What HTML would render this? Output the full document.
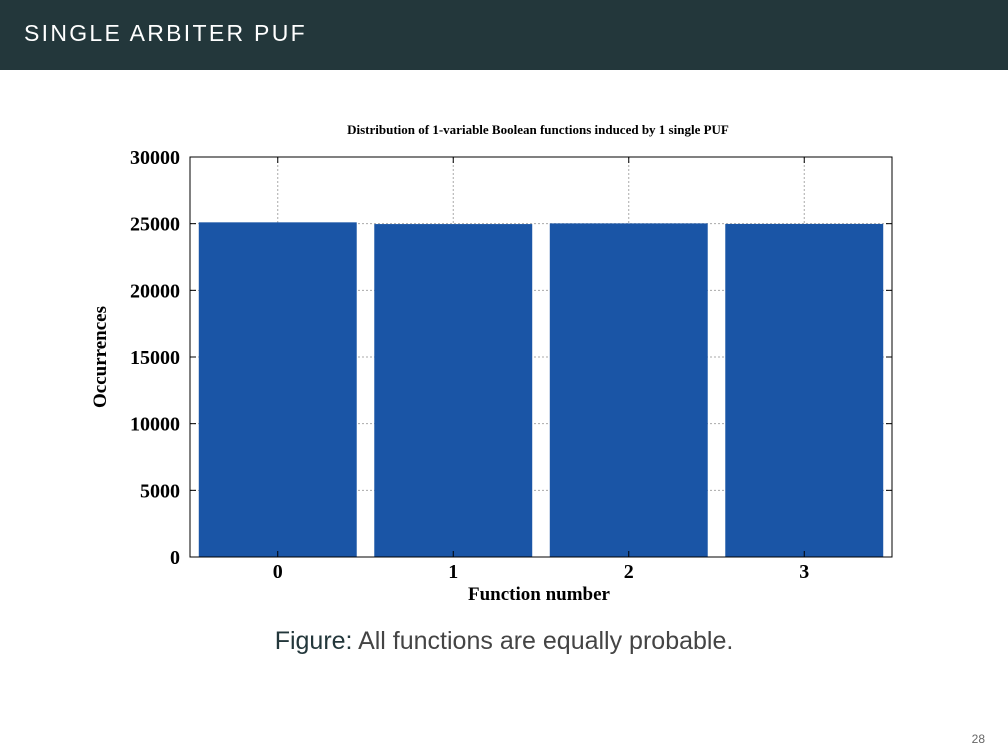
<!DOCTYPE html>
<html><head><meta charset="utf-8"><style>
body{margin:0;width:1008px;height:756px;background:#fff;position:relative;overflow:hidden;font-family:"Liberation Sans",sans-serif}
#hdr{position:absolute;left:0;top:0;width:1008px;height:70px;background:#23373b}
#ttl{position:absolute;left:24px;top:20px;color:#fff;font-size:23px;letter-spacing:2.3px}
#cap{position:absolute;left:0;width:1008px;top:627px;text-align:center;font-size:25px;color:#23373b}
#pg{position:absolute;right:23px;top:732px;font-size:12px;color:#666}
svg{position:absolute;left:0;top:0}
</style></head><body>
<div id="hdr"><div id="ttl">SINGLE ARBITER PUF</div></div>
<svg id="ch" width="1008" height="756"></svg>
<div id="cap"><span style="color:#23373b">Figure:</span> <span style="color:#444">All functions are equally probable.</span></div>
<div id="pg">28</div>
<script>
const categories=["0","1","2","3"];
const values=[25100,24970,25020,24980];
const yTicks=[0,5000,10000,15000,20000,25000,30000];
const X0=190,X1=892,Y0=557,Y1=157,YMAX=30000;
const svg=document.getElementById('ch');
const NS='http://www.w3.org/2000/svg';
function y(v){return Y0-(v/YMAX)*(Y0-Y1);}
const bw=(X1-X0)/categories.length;
function x(i){return X0+bw*(i+0.5);}
function mk(t,a,txt){const e=document.createElementNS(NS,t);for(const k in a)e.setAttribute(k,a[k]);if(txt!==undefined)e.textContent=txt;svg.appendChild(e);return e;}
const F='"Liberation Serif",serif';
yTicks.forEach(v=>{
 if(v>0&&v<YMAX){const g=mk('line',{x1:X0,x2:X1,y1:y(v),y2:y(v),stroke:'#aaa','stroke-dasharray':'2,2','stroke-width':1});
 
 }
 const t=mk('text',{x:X0-10,y:y(v)+7,'text-anchor':'end','font-family':F,'font-weight':'bold','font-size':20},String(v));
 
 
 mk('line',{x1:X0,x2:X0+6,y1:y(v),y2:y(v),stroke:'#000'});
 mk('line',{x1:X1,x2:X1-6,y1:y(v),y2:y(v),stroke:'#000'});
});
categories.forEach((c,i)=>{
 const g=mk('line',{x1:x(i),x2:x(i),y1:Y1,y2:Y0,stroke:'#aaa','stroke-dasharray':'2,2'});
 
 
 const b=mk('rect',{x:x(i)-bw*0.45,y:y(values[i]),width:bw*0.9,height:Y0-y(values[i]),fill:'#1a55a6'});
 
 
 const t=mk('text',{x:x(i),y:Y0+21,'text-anchor':'middle','font-family':F,'font-weight':'bold','font-size':20},c);
 
 
 mk('line',{x1:x(i),x2:x(i),y1:Y1,y2:Y1+6,stroke:'#000'});
 mk('line',{x1:x(i),x2:x(i),y1:Y0,y2:Y0-6,stroke:'#000'});
});
const fr=mk('rect',{x:X0,y:Y1,width:X1-X0,height:Y0-Y1,fill:'none',stroke:'#000','stroke-width':1});


const ct=mk('text',{x:538,y:134,'text-anchor':'middle','font-family':F,'font-weight':'bold','font-size':13},'Distribution of 1-variable Boolean functions induced by 1 single PUF');


const xt=mk('text',{x:539,y:600,'text-anchor':'middle','font-family':F,'font-weight':'bold','font-size':19},'Function number');


const yt=mk('text',{x:0,y:0,'text-anchor':'middle','font-family':F,'font-weight':'bold','font-size':19,transform:'translate(106,357) rotate(-90)'},'Occurrences');


</script>
</body></html>
